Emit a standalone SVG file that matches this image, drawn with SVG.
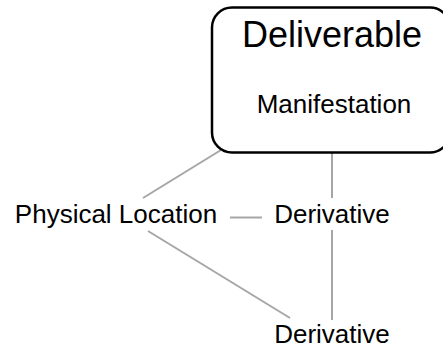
<svg xmlns="http://www.w3.org/2000/svg" width="443" height="348" viewBox="0 0 443 348">
  <style>
    .edge { stroke: #a6a6a6; stroke-width: 2; fill: none; }
    .box { fill: #ffffff; stroke: #000000; stroke-width: 2.5; }
    .lbl { font-family: "Liberation Sans", Arial, sans-serif; font-size: 26px; fill: #000000; text-anchor: middle; }
    .title { font-size: 36px; }
  </style>
  <rect width="443" height="348" fill="#ffffff"/>

  <g id="connectors">
    <line class="edge" x1="221" y1="150" x2="143" y2="198"/>
    <line class="edge" x1="332" y1="153" x2="332" y2="198"/>
    <line class="edge" x1="230" y1="217.5" x2="262" y2="217.5"/>
    <line class="edge" x1="148" y1="231" x2="290" y2="318"/>
    <line class="edge" x1="332" y1="230" x2="332" y2="320"/>
  </g>

  <g id="deliverable">
    <rect class="box" x="212" y="7.5" width="238" height="145" rx="20" ry="20"/>
    <text class="lbl title" x="332" y="47">Deliverable</text>
    <text class="lbl" x="334" y="113">Manifestation</text>
  </g>

  <g id="physical-location">
    <text class="lbl" x="116" y="223">Physical Location</text>
  </g>

  <g id="derivative-1">
    <text class="lbl" x="332" y="223">Derivative</text>
  </g>

  <g id="derivative-2">
    <text class="lbl" x="332" y="343">Derivative</text>
  </g>
</svg>
